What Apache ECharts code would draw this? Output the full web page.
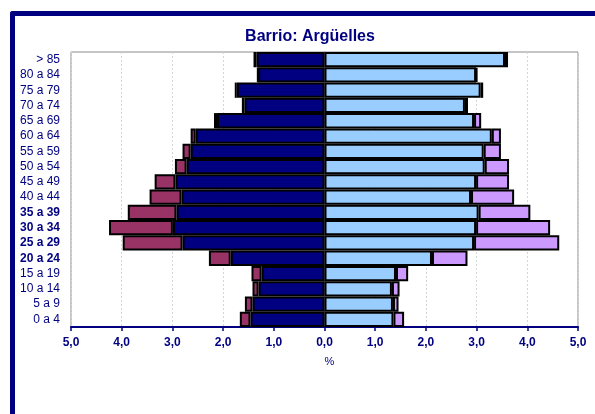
<!DOCTYPE html>
<html>
<head>
<meta charset="utf-8">
<script src="https://cdn.jsdelivr.net/npm/echarts@6/dist/echarts.min.js"></script>
<style>
  html, body { margin: 0; padding: 0; background: #fff; }
  #frame { position: absolute; left: 10px; top: 11px; width: 600px; height: 420px;
           border-left: 5px solid #000080; border-top: 5px solid #000080; border-top-left-radius: 3px; }
  #pyramid { position: absolute; left: 0; top: 0; width: 595px; height: 414px; }
</style>
</head>
<body>
<div id="frame"></div>
<div id="pyramid"></div>
<script>
// age groups, bottom to top
const ageGroups = ['0 a 4', '5 a 9', '10 a 14', '15 a 19', '20 a 24', '25 a 29', '30 a 34', '35 a 39', '40 a 44',
    '45 a 49', '50 a 54', '55 a 59', '60 a 64', '65 a 69', '70 a 74', '75 a 79', '80 a 84', '> 85'];
const boldGroups = ['20 a 24', '25 a 29', '30 a 34', '35 a 39'];

// % of population
const menSpanish = [1.46, 1.42, 1.30, 1.24, 1.85, 2.80, 2.99, 2.92, 2.82, 2.94, 2.72, 2.64, 2.54, 2.12, 1.58, 1.73, 1.31, 1.34];
const menForeign = [0.21, 0.15, 0.12, 0.20, 0.43, 1.18, 1.26, 0.96, 0.63, 0.41, 0.23, 0.16, 0.10, 0.06, 0.05, 0.04, 0.01, 0.06];
const womenSpanish = [1.36, 1.35, 1.33, 1.41, 2.12, 2.95, 2.99, 3.04, 2.89, 2.99, 3.16, 3.14, 3.30, 2.95, 2.77, 3.08, 2.99, 3.56];
const womenForeign = [0.21, 0.11, 0.15, 0.24, 0.70, 1.68, 1.46, 1.02, 0.85, 0.65, 0.48, 0.34, 0.18, 0.14, 0.06, 0.05, 0.02, 0.06];

const navy = '#000080';
const font = 'Arial, "Liberation Sans", sans-serif';

function barSeries(name, stack, color, values, sign) {
    return {
        name: name,
        type: 'bar',
        stack: stack,
        barGap: '-100%',
        barCategoryGap: '0%',
        itemStyle: { color: color, borderColor: '#000', borderWidth: 2 },
        data: values.map(v => v * sign)
    };
}

const option = {
    animation: false,
    title: {
        text: 'Barrio: Argüelles',
        left: 305,
        textAlign: 'center',
        top: 24,
        textStyle: { color: navy, fontFamily: font, fontSize: 16, fontWeight: 'bold' }
    },
    grid: {
        left: 71, right: 17, top: 52, bottom: 87,
        show: true, borderColor: '#8c8c8c', borderWidth: 1
    },
    xAxis: {
        type: 'value',
        min: -5, max: 5, interval: 1,
        name: '%',
        nameLocation: 'middle',
        nameGap: 29,
        nameTextStyle: { color: navy, fontFamily: font, fontSize: 11, padding: [0, 0, 0, 10] },
        axisLine: { show: true, lineStyle: { color: navy, width: 2 } },
        axisTick: { show: true, length: 4, lineStyle: { color: navy, width: 1.5 } },
        axisLabel: {
            color: navy, fontFamily: font, fontSize: 12, fontWeight: 'bold', margin: 10,
            formatter: v => Math.abs(v).toFixed(1).replace('.', ',')
        },
        splitLine: { show: true, lineStyle: { color: '#d4d4d4', type: [2, 2] } }
    },
    yAxis: {
        type: 'category',
        data: ageGroups,
        axisLine: { show: true, lineStyle: { color: '#8c8c8c' } },
        axisTick: { show: false },
        axisLabel: {
            interval: 0,
            fontFamily: font, fontSize: 12, color: navy, margin: 11,
            formatter: v => boldGroups.includes(v) ? '{b|' + v + '}' : v,
            rich: { b: { fontWeight: 'bold', color: navy, fontFamily: font, fontSize: 12 } }
        }
    },
    series: [
        barSeries('Hombres', 'men', navy, menSpanish, -1),
        barSeries('Hombres extranjeros', 'men', '#993366', menForeign, -1),
        barSeries('Mujeres', 'women', '#99ccff', womenSpanish, 1),
        barSeries('Mujeres extranjeras', 'women', '#cc99ff', womenForeign, 1)
    ]
};

const chart = echarts.init(document.getElementById('pyramid'));
chart.setOption(option);
</script>
</body>
</html>
